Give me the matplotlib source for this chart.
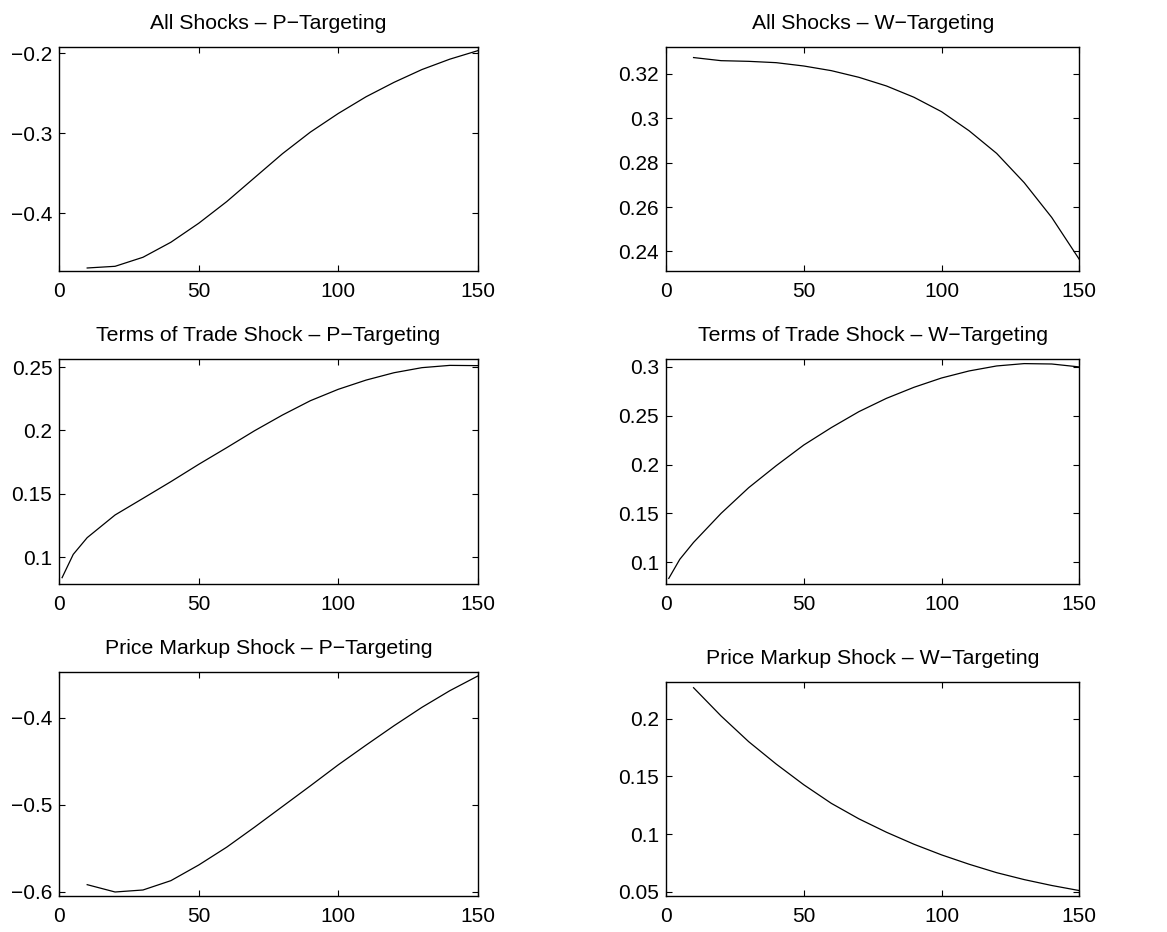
import matplotlib
matplotlib.use("Agg")
import matplotlib.pyplot as plt
from matplotlib.ticker import FixedLocator, FuncFormatter

plt.rcParams['font.family'] = ['Liberation Sans', 'DejaVu Sans']

# Horizon grids
horizon = [10, 20, 30, 40, 50, 60, 70, 80, 90, 100, 110, 120, 130, 140, 150]
horizon_tot = [1, 5, 10, 20, 30, 40, 50, 60, 70, 80, 90, 100, 110, 120, 130, 140, 150]

# All shocks
all_p = [-0.4686, -0.4665, -0.4552, -0.4364, -0.4126, -0.3856, -0.3556, -0.3256,
         -0.2986, -0.2753, -0.2543, -0.2363, -0.2203, -0.2073, -0.1967]
all_w = [0.3274, 0.3260, 0.3257, 0.3251, 0.3236, 0.3215, 0.3185, 0.3146,
         0.3095, 0.3030, 0.2944, 0.2842, 0.2710, 0.2553, 0.2364]

# Terms of trade shock
tot_p = [0.0837, 0.1021, 0.1153, 0.1332, 0.1463, 0.1595, 0.1732, 0.1863, 0.1997,
         0.2121, 0.2234, 0.2324, 0.2397, 0.2455, 0.2495, 0.2513, 0.2511]
tot_w = [0.0836, 0.1031, 0.1204, 0.1501, 0.1763, 0.1988, 0.2199, 0.2377, 0.2540,
         0.2676, 0.2789, 0.2884, 0.2956, 0.3007, 0.3031, 0.3027, 0.2997]

# Price markup shock
pm_p = [-0.5916, -0.6000, -0.5977, -0.5870, -0.5690, -0.5486, -0.5256, -0.5019,
        -0.4782, -0.4541, -0.4314, -0.4092, -0.3881, -0.3690, -0.3522]
pm_w = [0.2268, 0.2023, 0.1801, 0.1607, 0.1428, 0.1267, 0.1133, 0.1017,
        0.0913, 0.0821, 0.0740, 0.0667, 0.0607, 0.0556, 0.0512]

titles = [
    "All Shocks \u2013 P\u2212Targeting", "All Shocks \u2013 W\u2212Targeting",
    "Terms of Trade Shock \u2013 P\u2212Targeting", "Terms of Trade Shock \u2013 W\u2212Targeting",
    "Price Markup Shock \u2013 P\u2212Targeting", "Price Markup Shock \u2013 W\u2212Targeting",
]
x_ticks = [0, 50, 100, 150]
y_ticks = [
    [-0.4, -0.3, -0.2],
    [0.24, 0.26, 0.28, 0.30, 0.32],
    [0.10, 0.15, 0.20, 0.25],
    [0.10, 0.15, 0.20, 0.25, 0.30],
    [-0.6, -0.5, -0.4],
    [0.05, 0.10, 0.15, 0.20],
]
y_limits = [
    (-0.4720, -0.1917),
    (0.2313, 0.3323),
    (0.0787, 0.2561),
    (0.0779, 0.3075),
    (-0.6046, -0.3472),
    (0.0465, 0.2320),
]

series = [
    (horizon, all_p), (horizon, all_w),
    (horizon_tot, tot_p), (horizon_tot, tot_w),
    (horizon, pm_p), (horizon, pm_w),
]

W, H = 1167, 932
fig = plt.figure(figsize=(W / 100, H / 100), dpi=100)

# axes boxes in pixels: left, top, right, bottom
boxes = [
    (59.3, 46.7, 477.7, 270.7), (666, 46.7, 1079.3, 270.7),
    (59.3, 359.3, 477.7, 584), (666, 359.3, 1079.3, 584),
    (59.3, 671.7, 477.7, 896), (666, 681.7, 1079.3, 896),
]

fmt = FuncFormatter(lambda v, _: ("%g" % round(v, 6)).replace("-", "\u2212"))

for i, (l, t, r, b) in enumerate(boxes):
    ax = fig.add_axes([l / W, 1 - b / H, (r - l) / W, (b - t) / H])
    xs, ys = series[i]
    ax.plot(xs, ys, color="black", lw=0.9)
    ax.set_xlim(0, 150)
    ax.set_ylim(*y_limits[i])
    ax.xaxis.set_major_locator(FixedLocator(x_ticks))
    ax.yaxis.set_major_locator(FixedLocator(y_ticks[i]))
    ax.xaxis.set_major_formatter(fmt)
    ax.yaxis.set_major_formatter(fmt)
    ax.tick_params(direction="in", top=True, right=True, length=4, width=0.8,
                   labelsize=15, colors="black")
    ax.tick_params(axis="x", pad=8)
    ax.tick_params(axis="y", pad=5)
    for s in ax.spines.values():
        s.set_linewidth(1.0)
    ax.set_title(titles[i], fontsize=15.3, pad=13)

fig.savefig("out.png", dpi=100)
